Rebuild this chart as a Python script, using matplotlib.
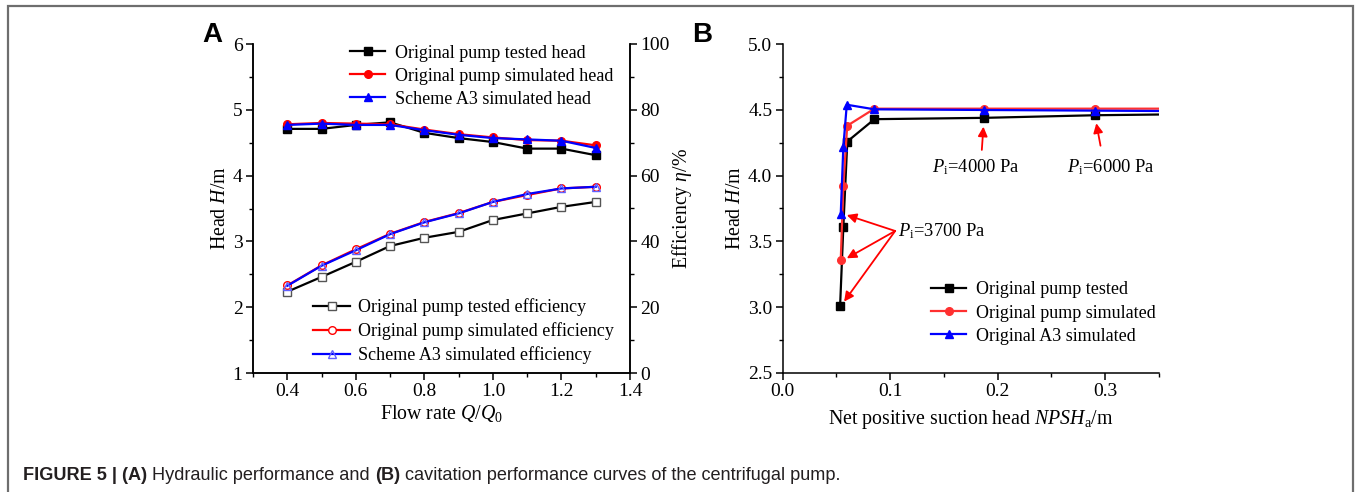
import matplotlib
matplotlib.use("Agg")
import matplotlib.pyplot as plt
from matplotlib.ticker import MultipleLocator
from matplotlib.patches import Rectangle

plt.rcParams.update({
    "font.family": ["Liberation Serif", "DejaVu Serif"],
    "mathtext.fontset": "custom",
    "mathtext.rm": "Liberation Serif",
    "mathtext.it": "Liberation Serif:italic",
    "mathtext.bf": "Liberation Serif:bold",
    "axes.linewidth": 1.1,
})

# ---- Panel A: hydraulic performance ----
flow_rate = [0.4, 0.5, 0.6, 0.7, 0.8, 0.9, 1.0, 1.1, 1.2, 1.3]
head_tested = [4.71, 4.71, 4.77, 4.81, 4.65, 4.57, 4.51, 4.41, 4.41, 4.31]
head_sim = [4.78, 4.80, 4.79, 4.78, 4.70, 4.63, 4.58, 4.54, 4.53, 4.46]
head_a3 = [4.77, 4.79, 4.77, 4.77, 4.69, 4.62, 4.57, 4.55, 4.53, 4.42]
eff_tested = [24.7, 29.2, 33.8, 38.6, 41.1, 42.9, 46.5, 48.5, 50.5, 52.0]
eff_sim = [26.6, 32.7, 37.6, 42.3, 45.9, 48.6, 52.0, 54.1, 56.1, 56.6]
eff_a3 = [26.5, 32.6, 37.3, 42.2, 45.8, 48.5, 52.0, 54.4, 56.1, 56.6]

# ---- Panel B: cavitation performance ----
npsh_tested = [0.0534, 0.0564, 0.0601, 0.0853, 0.1868, 0.2908, 0.40]
cav_tested = [3.01, 3.61, 4.26, 4.43, 4.44, 4.46, 4.47]
npsh_sim = [0.0540, 0.0564, 0.0600, 0.0853, 0.1868, 0.2908, 0.40]
cav_sim = [3.36, 3.92, 4.38, 4.51, 4.51, 4.51, 4.51]
npsh_a3 = [0.0540, 0.0564, 0.0596, 0.0853, 0.1868, 0.2908, 0.40]
cav_a3 = [3.71, 4.22, 4.54, 4.505, 4.50, 4.495, 4.49]

W, H = 1356, 492
fig = plt.figure(figsize=(W / 100, H / 100), dpi=100)

# outer frame of the figure box
fig.add_artist(Rectangle((8 / W, -0.1), (1353 - 8) / W, 1.1 - 6 / H,
                         transform=fig.transFigure, fill=False,
                         edgecolor="#6e6e6e", linewidth=1.6))


def px(x0, x1, y0, y1):
    return [x0 / W, 1 - y1 / H, (x1 - x0) / W, (y1 - y0) / H]


tick_fs = 14
label_fs = 14.3
leg_fs = 13
note_fs = 13.3
lw = 1.6
ms = 5.5


def style_ticks(ax):
    ax.tick_params(axis="both", which="major", direction="out", length=5,
                   width=1.1, labelsize=tick_fs, pad=2.5)
    ax.tick_params(axis="both", which="minor", direction="out", length=3,
                   width=1.0)


leg_kw = dict(bbox_transform=fig.transFigure, frameon=False, fontsize=leg_fs,
              labelspacing=0.34, borderpad=0, borderaxespad=0,
              loc="upper left")

# Panel A
axA = fig.add_axes(px(253, 630, 44, 373))
axA.plot(flow_rate, head_tested, color="black", marker="s", ms=ms, lw=lw,
         label="Original pump tested head")
axA.plot(flow_rate, head_sim, color="red", marker="o", ms=ms, lw=lw,
         label="Original pump simulated head")
axA.plot(flow_rate, head_a3, color="blue", marker="^", ms=ms + 0.5, lw=lw,
         label="Scheme A3 simulated head")
axA.set_xlim(0.3, 1.4)
axA.set_ylim(1, 6)
axA.xaxis.set_minor_locator(MultipleLocator(0.1))
axA.yaxis.set_major_locator(MultipleLocator(1))
axA.yaxis.set_minor_locator(MultipleLocator(0.5))
axA.set_xticks([0.4, 0.6, 0.8, 1.0, 1.2, 1.4])
axA.set_xticklabels(["0.4", "0.6", "0.8", "1.0", "1.2", "1.4"])
axA.spines["top"].set_visible(False)
style_ticks(axA)
axA.set_xlabel(r"Flow rate $\it{Q/Q_0}$", fontsize=label_fs, labelpad=2)
axA.set_ylabel(r"Head $\it{H}$/m", fontsize=label_fs, labelpad=2)

axE = axA.twinx()
axE.plot(flow_rate, eff_tested, color="black", marker="s", ms=ms, lw=lw,
         mfc="white", mec="#555555", label="Original pump tested efficiency")
axE.plot(flow_rate, eff_sim, color="red", marker="o", ms=ms, lw=lw,
         mfc="white", mec="red", label="Original pump simulated efficiency")
axE.plot(flow_rate, eff_a3, color="blue", marker="^", ms=ms + 0.5, lw=lw,
         mfc="none", mec="#6060ff", label="Scheme A3 simulated efficiency")
axE.set_ylim(0, 100)
axE.yaxis.set_major_locator(MultipleLocator(20))
axE.yaxis.set_minor_locator(MultipleLocator(10))
axE.spines["top"].set_visible(False)
style_ticks(axE)
axE.set_ylabel(r"Efficiency $\it{\eta}$/%", fontsize=label_fs, labelpad=0)

axA.legend(bbox_to_anchor=(350 / W, 1 - 44.5 / H), handlelength=1.95,
           handletextpad=0.55, **leg_kw)
axE.legend(bbox_to_anchor=(313 / W, 1 - 298.5 / H), handlelength=2.05,
           handletextpad=0.45, **leg_kw)

# Panel B
axB = fig.add_axes(px(782.7, 1159, 44.3, 372.7))
axB.plot(npsh_tested, cav_tested, color="black", marker="s", ms=ms, lw=lw,
         label="Original pump tested")
axB.plot(npsh_sim, cav_sim, color="#ff3030", marker="o", ms=ms, lw=lw,
         label="Original pump simulated")
axB.plot(npsh_a3, cav_a3, color="blue", marker="^", ms=ms + 0.5, lw=lw,
         label="Original A3 simulated")
axB.set_xlim(0, 0.35)
axB.set_ylim(2.5, 5.0)
axB.xaxis.set_major_locator(MultipleLocator(0.1))
axB.xaxis.set_minor_locator(MultipleLocator(0.05))
axB.yaxis.set_major_locator(MultipleLocator(0.5))
axB.yaxis.set_minor_locator(MultipleLocator(0.25))
axB.xaxis.set_major_formatter(plt.FormatStrFormatter("%.1f"))
axB.yaxis.set_major_formatter(plt.FormatStrFormatter("%.1f"))
axB.spines["top"].set_visible(False)
axB.spines["right"].set_visible(False)
style_ticks(axB)
axB.set_xlabel(r"Net positive suction head $\it{NPSH}_\mathrm{a}$/m",
               fontsize=label_fs, labelpad=6)
axB.set_ylabel(r"Head $\it{H}$/m", fontsize=label_fs, labelpad=2)
axB.legend(bbox_to_anchor=(931 / W, 1 - 281.5 / H), handlelength=1.95,
           handletextpad=0.55, **leg_kw)

arrow = dict(arrowstyle="-|>", color="red", lw=1.3, mutation_scale=14,
             shrinkA=0, shrinkB=0)
axB.text(0.1073, 3.58, r"$\it{P}_\mathrm{i}$=3700 Pa", fontsize=note_fs,
         ha="left", va="center")
for tx, ty in [(0.0596, 3.70), (0.0596, 3.371), (0.0571, 3.041)]:
    axB.annotate("", xy=(tx, ty), xytext=(0.1046, 3.579), arrowprops=arrow)

axB.text(0.1795, 4.068, r"$\it{P}_\mathrm{i}$=4000 Pa", fontsize=note_fs,
         ha="center", va="center")
axB.annotate("", xy=(0.1867, 4.373), xytext=(0.1852, 4.196), arrowprops=arrow)
axB.text(0.3048, 4.068, r"$\it{P}_\mathrm{i}$=6000 Pa", fontsize=note_fs,
         ha="center", va="center")
axB.annotate("", xy=(0.2917, 4.399), xytext=(0.2956, 4.228), arrowprops=arrow)

# panel letters
fig.text(212 / W, 1 - 35 / H, "A", fontsize=20, fontweight="bold",
         family="Liberation Sans", ha="center", va="center")
fig.text(702 / W, 1 - 35 / H, "B", fontsize=20, fontweight="bold",
         family="Liberation Sans", ha="center", va="center")

# caption built from bold and regular runs
fig.canvas.draw()
renderer = fig.canvas.get_renderer()
runs = [("FIGURE 5 | (A)", "bold"), (" Hydraulic performance and ", "normal"),
        ("(B)", "bold"),
        (" cavitation performance curves of the centrifugal pump.", "normal")]
x = 23 / W
for s, wgt in runs:
    t = fig.text(x, 1 - 476 / H, s, fontsize=13.1, fontweight=wgt,
                 family="Liberation Sans", color="#231f20", ha="left",
                 va="center")
    bb = t.get_window_extent(renderer=renderer)
    x += bb.width / W

fig.savefig("out.png", dpi=100)
